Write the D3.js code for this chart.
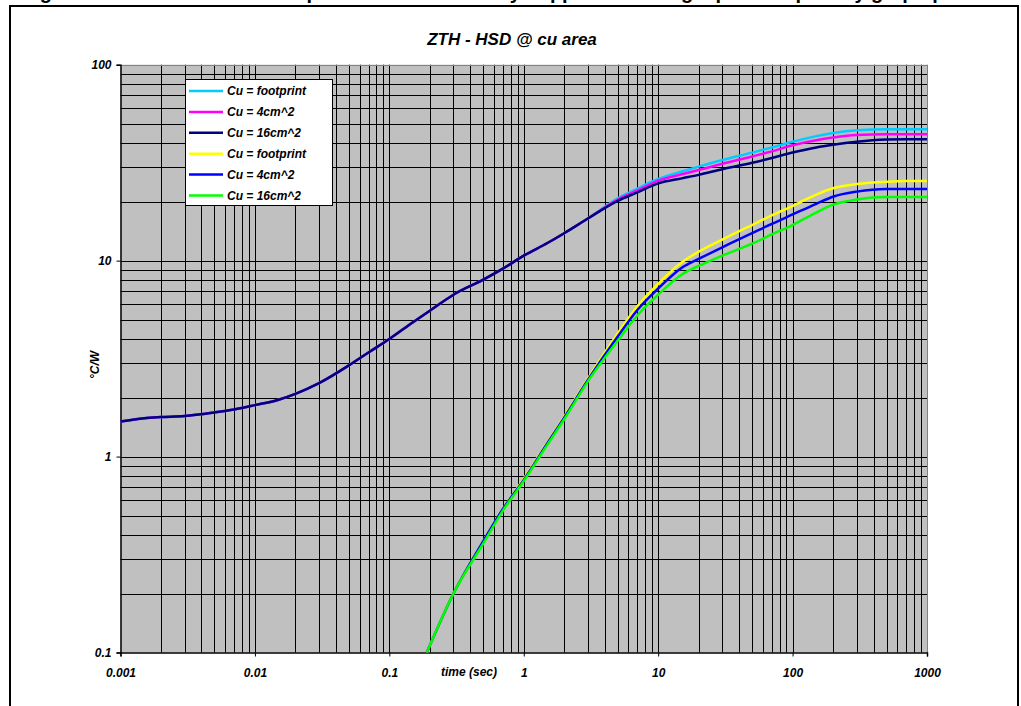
<!DOCTYPE html>
<html><head><meta charset="utf-8">
<script src="https://cdn.jsdelivr.net/npm/d3@7"></script>
<style>html,body{margin:0;padding:0;background:#fff;}svg{display:block;}</style>
</head><body>
<svg id="c" width="1021" height="706"></svg>
<script>
// ---- data ----
const chartTitle = "ZTH - HSD @ cu area";
const captionText = "Figure 8. Transient thermal impedance ZTH - HSD by copper area: single pulse capability graph plot";
const yAxisLabel = "°C/W";
const xAxisLabel = "time (sec)";
const xTickValues = [0.001, 0.01, 0.1, 1, 10, 100, 1000];
const xTickLabels = ["0.001", "0.01", "0.1", "1", "10", "100", "1000"];
const yTickValues = [0.1, 1, 10, 100];
const yTickLabels = ["0.1", "1", "10", "100"];
const seriesNames = ["Cu = footprint", "Cu = 4cm^2", "Cu = 16cm^2", "Cu = footprint", "Cu = 4cm^2", "Cu = 16cm^2"];
const seriesColors = ["#00ccff", "#ff00ff", "#000080", "#ffff00", "#0000ff", "#00ff00"];

// shared early part of upper curves (time, value)
const upperTime = [0.001, 0.0015, 0.002, 0.003, 0.005, 0.007, 0.01, 0.015, 0.02, 0.03, 0.05, 0.07, 0.1, 0.15, 0.2, 0.3, 0.5, 0.7, 1, 1.5, 2, 3];
const upperShared = [1.51, 1.57, 1.59, 1.61, 1.68, 1.74, 1.83, 1.95, 2.09, 2.37, 2.92, 3.4, 3.98, 4.85, 5.55, 6.7, 8.0, 9.1, 10.6, 12.3, 13.8, 16.4];
const upperTailTime = [5, 7, 10, 15, 20, 30, 50, 70, 100, 150, 200, 300, 500, 700, 1000];
const cyanTail    = [20.8, 23.3, 26.1, 28.5, 30.2, 32.6, 35.6, 37.8, 40.4, 43.2, 44.8, 46.3, 46.9, 46.9, 46.9];
const magentaTail = [20.5, 22.8, 25.6, 27.6, 29.0, 31.2, 34.0, 36.1, 38.8, 41.2, 42.5, 43.8, 44.2, 44.2, 44.2];
const navyTail    = [20.2, 22.3, 24.8, 26.3, 27.4, 29.3, 31.6, 33.4, 35.6, 37.8, 39.0, 40.4, 41.5, 41.7, 41.7];

const lowerTime = [0.19, 0.3, 0.5, 0.7, 1, 1.5, 2, 3, 5, 7, 10, 15, 20, 30, 50, 70, 100, 150, 200, 300, 500, 700, 1000];
const yellowVals = [0.1, 0.20, 0.37, 0.54, 0.77, 1.18, 1.6, 2.5, 4.25, 5.85, 7.6, 9.8, 11.1, 12.8, 15.2, 17.0, 19.0, 21.7, 23.4, 24.6, 25.3, 25.5, 25.5];
const blueVals   = [0.1, 0.20, 0.37, 0.54, 0.76, 1.17, 1.58, 2.46, 4.1, 5.6, 7.2, 9.2, 10.2, 11.7, 13.8, 15.4, 17.2, 19.5, 21.2, 22.5, 23.2, 23.2, 23.2];
const greenVals  = [0.1, 0.20, 0.36, 0.53, 0.75, 1.15, 1.55, 2.42, 3.9, 5.25, 6.7, 8.5, 9.4, 10.6, 12.2, 13.6, 15.2, 17.6, 19.3, 20.5, 21.1, 21.1, 21.1];

// ---- build series ----
function zip(ts, vs){ return ts.map((t,i)=>({t:t, v:vs[i]})); }
const series = [
  zip(upperTime.concat(upperTailTime), upperShared.concat(cyanTail)),
  zip(upperTime.concat(upperTailTime), upperShared.concat(magentaTail)),
  zip(upperTime.concat(upperTailTime), upperShared.concat(navyTail)),
  zip(lowerTime, yellowVals),
  zip(lowerTime, blueVals),
  zip(lowerTime, greenVals)
];

const svg = d3.select("#c");
const font = "'Liberation Sans', Arial, sans-serif";

// caption (clipped at top, as in the reference)
svg.append("text").attr("x", 22).attr("y", -1)
  .attr("font-family", font).attr("font-weight", "bold").attr("font-size", 20)
  .attr("fill", "#000").text(captionText);

// outer frame
svg.append("rect").attr("x", 10).attr("y", 6).attr("width", 1008).attr("height", 720)
  .attr("fill", "none").attr("stroke", "#000").attr("stroke-width", 2);

const pL = 120.5, pR = 927, pT = 64.7, pB = 652.5;
const x = d3.scaleLog().domain([0.001, 1000]).range([pL, pR]);
const y = d3.scaleLog().domain([0.1, 100]).range([pB, pT]);

// plot background
svg.append("rect").attr("x", pL).attr("y", pT).attr("width", pR-pL).attr("height", pB-pT)
  .attr("fill", "#c0c0c0");

// gridlines
const minorX = [];
for (let e = -3; e < 3; e++) for (let m = 1; m <= 9; m++) minorX.push(m * Math.pow(10, e));
minorX.push(1000);
const minorY = [];
for (let e = -1; e < 2; e++) for (let m = 1; m <= 9; m++) minorY.push(m * Math.pow(10, e));
minorY.push(100);

const g = svg.append("g");
g.selectAll("line.vx").data(minorX.filter(d => d > 0.0011)).enter().append("line")
  .attr("x1", d => Math.round(x(d)) + 0.5).attr("x2", d => Math.round(x(d)) + 0.5)
  .attr("y1", pT).attr("y2", pB)
  .attr("stroke", d => d > 999 ? "#808080" : "#000").attr("stroke-width", 1);
g.selectAll("line.hy").data(minorY.filter(d => d > 0.11)).enter().append("line")
  .attr("y1", d => Math.round(y(d)) + 0.5).attr("y2", d => Math.round(y(d)) + 0.5)
  .attr("x1", pL).attr("x2", pR)
  .attr("stroke", d => d > 99 ? "#808080" : "#000").attr("stroke-width", 1);

// axes
const xAxis = d3.axisBottom(x).tickValues(xTickValues).tickSize(4).tickFormat((d,i)=>xTickLabels[i]);
const yAxis = d3.axisLeft(y).tickValues(yTickValues).tickSize(4).tickFormat((d,i)=>yTickLabels[i]);
const gx = svg.append("g").attr("transform", `translate(0,${pB})`).call(xAxis);
const gy = svg.append("g").attr("transform", `translate(${pL},0)`).call(yAxis);
[gx, gy].forEach(a => {
  a.select(".domain").attr("stroke", "#000").attr("stroke-width", 1.5);
  a.selectAll(".tick line").attr("stroke", "#000");
  a.selectAll(".tick text").attr("font-family", font).attr("font-weight", "bold")
    .attr("font-style", "italic").attr("font-size", 12).attr("fill", "#000");
});
gx.selectAll(".tick text").attr("dy", null).attr("y", 24);
gy.selectAll(".tick text").attr("x", -9).attr("dy", "0.35em");

// curves
const line = d3.line().x(d => x(d.t)).y(d => y(d.v)).curve(d3.curveMonotoneX);
svg.append("g").selectAll("path").data(series).enter().append("path")
  .attr("d", line).attr("fill", "none")
  .attr("stroke", (d,i) => seriesColors[i]).attr("stroke-width", 2.5)
  .attr("stroke-linejoin", "round");

// title
svg.append("text").attr("x", 512).attr("y", 45).attr("text-anchor", "middle")
  .attr("font-family", font).attr("font-weight", "bold").attr("font-style", "italic")
  .attr("font-size", 17).text(chartTitle);

// axis labels
svg.append("text").attr("x", 469).attr("y", 676).attr("text-anchor", "middle")
  .attr("font-family", font).attr("font-weight", "bold").attr("font-style", "italic")
  .attr("font-size", 12).text(xAxisLabel);
svg.append("text").attr("transform", "translate(99,365) rotate(-90)").attr("text-anchor", "middle")
  .attr("font-family", font).attr("font-weight", "bold").attr("font-style", "italic")
  .attr("font-size", 12).text(yAxisLabel);

// legend
const lg = svg.append("g");
lg.append("rect").attr("x", 185.5).attr("y", 79.5).attr("width", 147).attr("height", 126)
  .attr("fill", "#fff").attr("stroke", "#000").attr("stroke-width", 1);
const rows = lg.selectAll("g.r").data(seriesNames).enter().append("g")
  .attr("transform", (d,i) => `translate(0,${91 + i*20.9})`);
rows.append("line").attr("x1", 189).attr("x2", 223).attr("y1", 0).attr("y2", 0)
  .attr("stroke", (d,i) => seriesColors[i]).attr("stroke-width", 2.5);
rows.append("text").attr("x", 227).attr("y", 0).attr("dy", "0.35em")
  .attr("font-family", font).attr("font-weight", "bold").attr("font-style", "italic")
  .attr("font-size", 12).text(d => d);
</script>
</body></html>
